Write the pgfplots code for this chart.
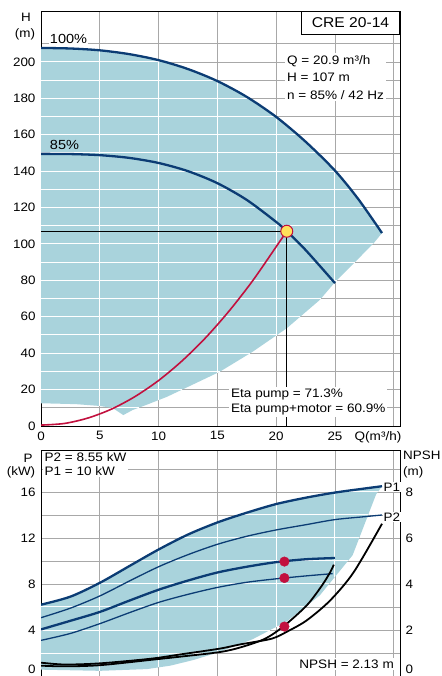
\documentclass[border=0pt]{standalone}
\usepackage{fontspec}
\setmainfont{Liberation Sans}[FakeStretch=1.1]
\usepackage{pgfplots}
\pgfplotsset{compat=1.18}

\definecolor{regionblue}{HTML}{A9D3DC}
\definecolor{curve}{HTML}{0B3C74}
\definecolor{sysred}{HTML}{C2103E}
\definecolor{gridgray}{HTML}{A8A8A8}
\definecolor{opyellow}{HTML}{FFE15A}

\newcommand\fs{\fontsize{12.2}{14}\selectfont}

\pgfplotsset{
  base/.style={
    scale only axis, width=359pt,
    xmin=0, xmax=30.53,
    axis line style={black, line width=0.9pt},
    grid=both,
    major grid style={gridgray, line width=0.9pt},
    minor grid style={gridgray, line width=0.9pt},
    tick style={draw=none},
    tick label style={font=\fs},
    /pgf/number format/assume math mode=true,
    xtick={0,5,...,30}, minor xtick={},
    unbounded coords=jump,
  },
  wgrid/.style={draw=white, line width=1pt, mark=none, forget plot},
}

\begin{document}
\begin{tikzpicture}
\useasboundingbox (0,0) rectangle (441pt,-676pt);

% ---------------- H(Q) ----------------
\begin{axis}[base, at={(41pt,-11pt)}, anchor=north west, height=415pt,
  ymin=0, ymax=228,
  xticklabels={0,5,10,15,20,25,},
  ytick={0,20,...,200}, minor ytick={10,30,...,220},
  yticklabel style={xshift=-2pt}, xticklabel style={yshift=-2pt},
]
% operating range
\addplot[fill=regionblue, draw=none, forget plot] coordinates {
  (0,207.7) (2.5,207.4) (5,206.4) (7.5,204.3) (10,201) (12.5,196.1) (15,189.5)
  (17.5,180.8) (20,169.8) (22.5,156.2) (25,140.3) (27,124.5) (29,106)
  (28.3,100.5) (27,92) (25,79) (23.7,69.2) (20.9,53.7) (18,40.8) (15.2,29.8)
  (12.5,21.5) (10.7,16) (9,11.7) (7.8,8.8) (7,6) (6.1,9.9) (5,11) (3,12) (0,12.5)
};
% grid lines inside the range are white
\addplot[wgrid] coordinates {(5,11) (5,206.4)};
\addplot[wgrid] coordinates {(10,14.2) (10,201)};
\addplot[wgrid] coordinates {(15,29.2) (15,189.5)};
\addplot[wgrid] coordinates {(20,49.7) (20,169.8)};
\addplot[wgrid] coordinates {(25,79) (25,140.3)};
\addplot[wgrid] coordinates {
  (6.0,10) (8.3,10) (0,nan) (0,20) (12.0,20) (0,nan) (0,30) (15.25,30) (0,nan)
  (0,40) (17.8,40) (0,nan) (0,50) (20.07,50) (0,nan) (0,60) (22.04,60) (0,nan)
  (0,70) (23.8,70) (0,nan) (0,80) (25.15,80) (0,nan) (0,90) (26.7,90) (0,nan)
  (0,100) (28.22,100) (0,nan) (0,110) (28.57,110) (0,nan) (0,120) (27.49,120) (0,nan)
  (0,130) (26.3,130) (0,nan) (0,140) (25.04,140) (0,nan) (0,150) (23.47,150) (0,nan)
  (0,160) (21.8,160) (0,nan) (0,170) (19.95,170) (0,nan) (0,180) (17.68,180) (0,nan)
  (0,190) (14.81,190) (0,nan) (0,200) (10.51,200)
};
% 100 %
\addplot[curve, line width=2.3pt, smooth] coordinates {
  (0,207.7) (2.5,207.4) (5,206.4) (7.5,204.3) (10,201) (12.5,196.1) (15,189.5)
  (17.5,180.8) (20,169.8) (22.5,156.2) (25,140.3) (27,124.5) (29,106)
};
% 85 %
\addplot[curve, line width=2.3pt, smooth] coordinates {
  (0,149.5) (2.5,149.4) (5,148.8) (7.5,147.3) (10,144.5) (12.5,140) (15,133.4)
  (17.5,124.2) (20,112.1) (20.9,107) (22.5,96.7) (25,78.5)
};
% system curve
\addplot[sysred, line width=1.6pt, smooth] coordinates {
  (0,0.5) (2,1.4) (4,4.4) (6,9.3) (8,16.2) (10,25) (12,35.8) (14,48.5)
  (16,63.2) (18,79.8) (20,98.5) (20.9,107)
};
% duty point lines
\addplot[black, line width=0.9pt] coordinates {(0,107) (20.9,107) (20.9,0)};
\addplot[only marks, mark=*, mark size=6pt,
  mark options={fill=opyellow, draw=sysred, line width=1pt}] coordinates {(20.9,107)};
\end{axis}

% ---------------- P(Q) ----------------
\begin{axis}[base, at={(41pt,-450pt)}, anchor=north west, height=226pt,
  ymin=0, ymax=19.65,
  xticklabels={},
  ytick={4,8,12,16}, minor ytick={2,6,...,18},
  extra y ticks={0}, extra y tick style={yticklabel style={yshift=7pt}},
  yticklabel style={xshift=-2pt},
]
\addplot[fill=regionblue, draw=none, forget plot] coordinates {
  (0,6.2) (2.5,6.9) (5,8.1) (7.5,9.55) (10,11.0) (12.5,12.3) (15,13.35)
  (17.5,14.2) (20,14.95) (22.5,15.5) (25,15.95) (27.5,16.3) (29,16.5)
  (28.5,15.8) (26.5,10.5) (23.7,7.0) (20.9,4.75) (18,3.2) (15.2,2.1) (13,1.4)
  (11,0.9) (9,0.6) (5,0.45) (0,0.55)
};
\addplot[wgrid] coordinates {(5,0.45) (5,8.1)};
\addplot[wgrid] coordinates {(10,0.75) (10,11.0)};
\addplot[wgrid] coordinates {(15,2.04) (15,13.35)};
\addplot[wgrid] coordinates {(20,4.27) (20,14.95)};
\addplot[wgrid] coordinates {(25,8.63) (25,15.95)};
\addplot[wgrid] coordinates {
  (0,2) (14.89,2) (0,nan) (0,4) (19.5,4) (0,nan) (0,6) (22.46,6) (0,nan)
  (4.79,8) (24.5,8) (0,nan) (8.28,10) (26.1,10) (0,nan) (11.92,12) (27.07,12) (0,nan)
  (16.91,14) (27.82,14) (0,nan) (25.36,16) (28.64,16)
};
% P1 100 %
\addplot[curve, line width=2.3pt, smooth] coordinates {
  (0,6.2) (2.5,6.9) (5,8.1) (7.5,9.55) (10,11.0) (12.5,12.3) (15,13.35)
  (17.5,14.2) (20,14.95) (22.5,15.5) (25,15.95) (27.5,16.3) (29,16.5)
};
% P2 100 %
\addplot[curve, line width=1.3pt, smooth] coordinates {
  (0,5.07) (2.5,5.9) (5,6.96) (7.5,8.25) (10,9.5) (12.5,10.55) (15,11.45)
  (17.5,12.15) (20,12.7) (22.5,13.15) (25,13.6) (27.5,13.85) (29,14.0)
};
% P1 85 %
\addplot[curve, line width=2.3pt, smooth] coordinates {
  (0,4.05) (2.5,4.8) (5,5.57) (7.5,6.55) (10,7.5) (12.5,8.3) (15,9.0)
  (17.5,9.5) (20,9.9) (22.5,10.15) (25,10.26)
};
% P2 85 %
\addplot[curve, line width=1.3pt, smooth] coordinates {
  (0,3.1) (2.5,3.7) (5,4.55) (7.5,5.5) (10,6.4) (12.5,7.1) (15,7.7)
  (17.5,8.15) (20,8.45) (22.5,8.7) (24.8,8.9)
};
\addplot[only marks, mark=*, mark size=4.8pt, sysred] coordinates {(20.7,9.95) (20.7,8.52)};
\end{axis}

% ---------------- NPSH(Q) ----------------
\begin{axis}[scale only axis, width=359pt, height=226pt,
  at={(41pt,-450pt)}, anchor=north west,
  xmin=0, xmax=30.53, ymin=0, ymax=9.825,
  axis x line=none, axis y line*=right,
  axis line style={black, line width=0.9pt},
  tick style={draw=none}, tick label style={font=\fs},
  /pgf/number format/assume math mode=true,
  ytick={2,4,6,8}, extra y ticks={0},
  extra y tick style={yticklabel style={yshift=7pt}},
  yticklabel style={xshift=2pt},
]
\addplot[black, line width=1.8pt, smooth] coordinates {
  (0,0.58) (2,0.5) (5,0.55) (9.3,0.75) (12,0.95) (15.2,1.19) (17,1.38)
  (19.6,1.62) (21,1.95) (22.6,2.42) (24.6,3.29) (26.6,4.52) (29,6.62)
};
\addplot[black, line width=1.8pt, smooth] coordinates {
  (0,0.45) (2,0.42) (5,0.47) (9.3,0.7) (12,0.85) (15.2,1.04) (17,1.25)
  (19.05,1.62) (20.6,2.15) (22.6,3.07) (23.9,3.94) (24.6,4.52) (24.9,4.84)
};
\addplot[only marks, mark=*, mark size=4.8pt, sysred] coordinates {(20.7,2.15)};
\end{axis}

% ---------------- texts ----------------
\node[font=\fs] at (26pt,-17pt) {H};
\node[font=\fs] at (25pt,-34pt) {(m)};
\node[font=\fontsize{13.2}{15}\selectfont, fill=white, inner sep=1pt] at (68.5pt,-39pt) {100\%};
\node[font=\fontsize{13.2}{15}\selectfont, inner sep=1pt] at (64.5pt,-145pt) {85\%};
\node[draw=black, line width=0.9pt, fill=white, minimum width=98pt, minimum height=23pt,
  anchor=north east, font=\fontsize{14.2}{16}\selectfont, inner sep=0pt] at (400pt,-11pt) {CRE 20-14};
\node[fill=white, anchor=north west, align=left, inner sep=2pt,
  font=\fontsize{12.3}{17.5}\selectfont] at (285pt,-53pt) {Q = 20.9 m³/h\\H = 107 m\\n = 85\% / 42 Hz};
\node[fill=white, anchor=north west, align=left, inner sep=2pt,
  font=\fontsize{12.3}{15}\selectfont] at (229pt,-387pt) {Eta pump = 71.3\%\\Eta pump+motor = 60.9\%};
\node[font=\fontsize{12.3}{14}\selectfont] at (378pt,-437pt) {Q(m³/h)};
\node[font=\fs] at (28pt,-458pt) {P};
\node[font=\fs] at (21pt,-472pt) {(kW)};
\node[font=\fs, anchor=west, inner sep=0pt] at (403pt,-455pt) {NPSH};
\node[font=\fs, anchor=west, inner sep=0pt] at (403pt,-472pt) {(m)};
\node[fill=white, anchor=north west, align=left, inner sep=1.5pt,
  font=\fontsize{12.3}{14}\selectfont] at (43pt,-451pt) {P2 = 8.55 kW\\P1 = 10 kW};
\node[fill=white, anchor=east, inner sep=2pt, font=\fontsize{12.3}{14}\selectfont] at (396pt,-664pt) {NPSH = 2.13 m};
\node[fill=white, anchor=west, inner sep=0.5pt, font=\fs] at (383pt,-487pt) {P1};
\node[fill=white, anchor=west, inner sep=0.5pt, font=\fs] at (383pt,-517pt) {P2};
\end{tikzpicture}
\end{document}
